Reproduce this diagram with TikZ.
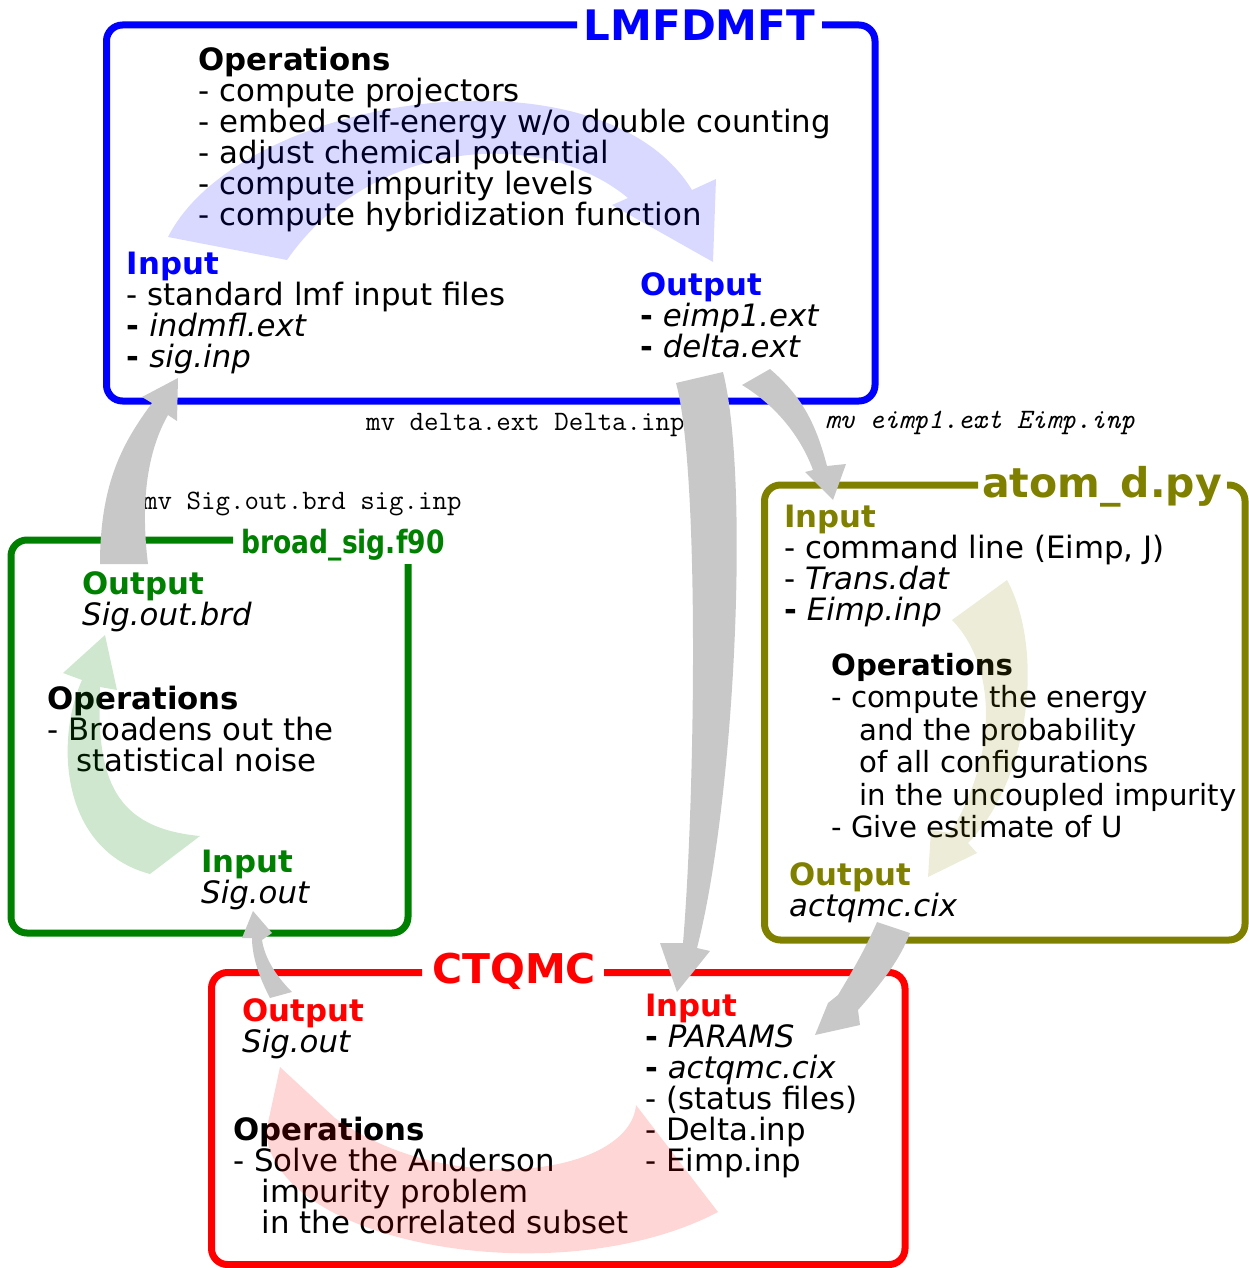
\documentclass[tikz,border=0pt]{standalone}
\usepackage{fontspec}
\setmainfont{DejaVu Sans}
\usepackage{graphicx}
\definecolor{arrgray}{RGB}{200,200,200}
\definecolor{dgreen}{RGB}{0,128,0}
\definecolor{olv}{RGB}{128,128,0}
\begin{document}
\begin{tikzpicture}[x=1pt,y=-1pt,
  frame/.style={line width=7pt, rounded corners=16pt},
  body/.style={font=\fontsize{30.8}{31}\selectfont, anchor=base west, align=left, inner sep=0pt},
  ttl/.style={font=\fontsize{41}{41}\selectfont\bfseries, anchor=base, inner sep=0pt},
  cmd/.style={font=\fontsize{28.1}{28}\selectfont\ttfamily, anchor=base west, inner sep=0pt},
  flow/.style={fill=arrgray},
]
\useasboundingbox (0,0) rectangle (1248,1268);

% ---------- frames ----------
\draw[frame, blue] (822,25) -- (875,25) -- (875,401) -- (106.5,401) -- (106.5,25) -- (577,25);
\draw[frame, dgreen] (408,564) -- (408,933) -- (11,933) -- (11,540) -- (233,540);
\draw[frame, olv] (1227,485) -- (1245,485) -- (1245,940) -- (764.5,940) -- (764.5,485) -- (978,485);
\draw[frame, red] (604,972.5) -- (905,972.5) -- (905,1264.5) -- (211.5,1264.5) -- (211.5,972.5) -- (422,972.5);

% ---------- titles ----------
\node[ttl, text=blue, font=\fontsize{42}{42}\selectfont\bfseries] (tLMF) at (699.5,41) {LMFDMFT};
\node[ttl, text=red] (tCTQ) at (514,983) {CTQMC};
\node[ttl, text=olv] (tATM) at (1102,497) {atom\_d.py};
\node[anchor=base, inner sep=0pt, text=dgreen, font=\fontsize{32}{32}\selectfont\bfseries] (tBRD) at (343,553) {\scalebox{0.83}[1]{broad\_sig.f90}};

% ---------- LMFDMFT texts (anchored at baseline of last line) ----------
\node[body] (lOps) at (198.5,225.5) {\textbf{Operations}\\- compute projectors\\- embed self-energy w/o double counting\\- adjust chemical potential\\- compute impurity levels\\- compute hybridization function};
\node[body] (lIn) at (126.5,367) {{\color{blue}\bfseries Input}\\- standard lmf input files\\\textbf{-} \textit{indmfl.ext}\\\textbf{-} \textit{sig.inp}};
\node[body] (lOut) at (640,357) {{\color{blue}\bfseries Output}\\\textbf{-} \textit{eimp1.ext}\\\textbf{-} \textit{delta.ext}};

% ---------- broad_sig texts ----------
\node[body] (bOut) at (82,625.5) {{\color{dgreen}\bfseries Output}\\\textit{Sig.out.brd}};
\node[body] (bOps) at (47,771) {\textbf{Operations}\\- Broadens out the\\\hspace*{29pt}statistical noise};
\node[body] (bIn) at (201,903) {{\color{dgreen}\bfseries Input}\\\textit{Sig.out}};

% ---------- atom_d texts ----------
\node[body] (aIn) at (784,620) {{\color{olv}\bfseries Input}\\- command line (Eimp, J)\\- \textit{Trans.dat}\\\textbf{-} \textit{Eimp.inp}};
\node[body, font=\fontsize{29.2}{32.5}\selectfont] (aOps) at (831,837.5) {\textbf{Operations}\\- compute the energy\\\hspace*{28pt}and the probability\\\hspace*{28pt}of all configurations\\\hspace*{28pt}in the uncoupled impurity\\- Give estimate of U};
\node[body] (aOut) at (789,916.5) {{\color{olv}\bfseries Output}\\\textit{actqmc.cix}};

% ---------- CTQMC texts ----------
\node[body] (cOut) at (242,1052.5) {{\color{red}\bfseries Output}\\\textit{Sig.out}};
\node[body] (cOps) at (233,1233.5) {\textbf{Operations}\\- Solve the Anderson\\\hspace*{28.5pt}impurity problem\\\hspace*{28.5pt}in the correlated subset};
\node[body] (cIn) at (645,1171) {{\color{red}\bfseries Input}\\\textbf{-} \textit{PARAMS}\\\textbf{-} \textit{actqmc.cix}\\- (status files)\\- Delta.inp\\- Eimp.inp};

% ---------- command labels ----------
\node[cmd] (mvD) at (366,430) {mv delta.ext Delta.inp};
\node[cmd, font=\fontsize{28.1}{28}\selectfont\ttfamily\itshape] (mvE) at (825,428) {mv eimp1.ext Eimp.inp};
\node[cmd] (mvS) at (143,509) {mv Sig.out.brd sig.inp};

% ---------- inner (light) flow arcs ----------
\fill[blue, fill opacity=0.15] (168,237) .. controls (240,95) and (600,40) .. (692,190) -- (716,179) -- (713,262) -- (612,205) -- (628,198) .. controls (540,125) and (370,140) .. (287,260) -- cycle;
\fill[dgreen, fill opacity=0.19] (150,874) .. controls (60,850) and (55,740) .. (82,680) -- (63,673) -- (105,635) -- (117,690) -- (100,687) .. controls (96,780) and (115,828) .. (200,836) -- cycle;
\fill[olv, fill opacity=0.15] (1007,580) .. controls (1045,650) and (1030,780) .. (968,843) -- (977,853) -- (928,877) -- (931,830) -- (950,833) .. controls (995,760) and (1000,670) .. (952,620) -- cycle;
\fill[red, fill opacity=0.16] (280,1067) -- (266,1132) .. controls (275,1245) and (560,1295) .. (718,1212) -- (636,1105) .. controls (630,1175) and (450,1200) .. (335,1118) -- cycle;

% ---------- grey transfer arrows ----------
\fill[flow] (100,564) .. controls (100,480) and (125,440) .. (152,403) -- (142,397) -- (178,378) -- (177,421) -- (168,415) .. controls (148,450) and (140,500) .. (148,564) -- cycle;
\fill[flow] (676,383) .. controls (700,470) and (695,800) .. (683,943) -- (660,943) -- (677,992) -- (710,951) -- (697,948) .. controls (735,800) and (750,480) .. (723,372) -- cycle;
\fill[flow] (742,385) .. controls (775,405) and (800,435) .. (813,470) -- (805,472) -- (833,500) -- (846,464) -- (827,466) .. controls (815,420) and (800,395) .. (770,369) -- cycle;
\fill[flow] (877,922) .. controls (865,950) and (850,975) .. (838,995) -- (828,1003) -- (815,1035) -- (860,1025) -- (858,1010) .. controls (880,985) and (900,960) .. (910,933) -- cycle;
\fill[flow] (270,998) .. controls (258,975) and (252,955) .. (252,938) -- (242,938) -- (253,911) -- (272,933) -- (262,940) .. controls (265,960) and (278,978) .. (292,992) -- cycle;
\end{tikzpicture}
\end{document}
